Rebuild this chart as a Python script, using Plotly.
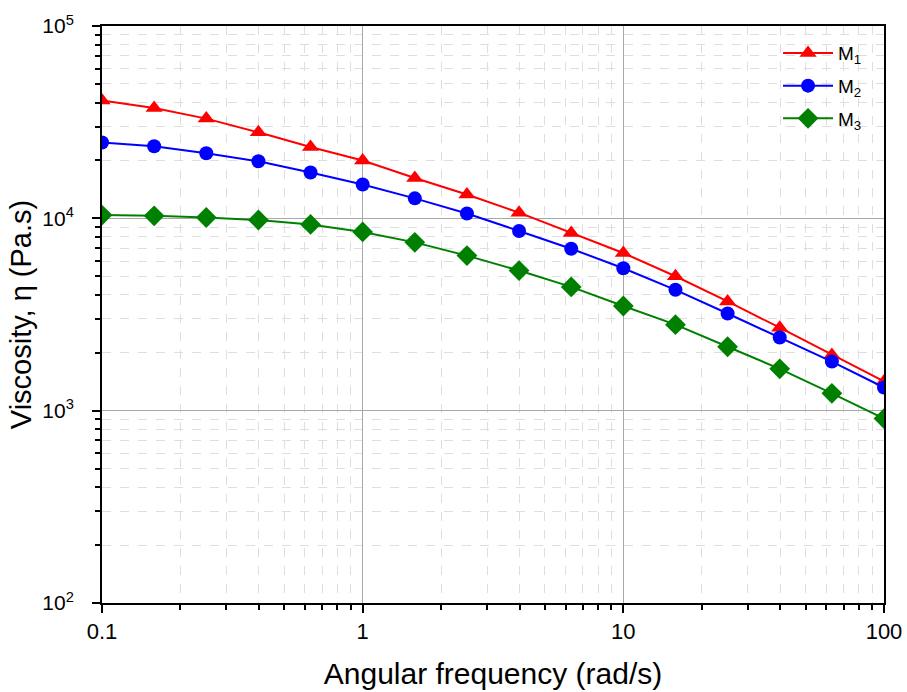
import plotly.graph_objects as go

freq = [0.1, 0.1585, 0.2512, 0.3981, 0.631, 1.0, 1.585, 2.512, 3.981, 6.31,
        10.0, 15.85, 25.12, 39.81, 63.1, 100.0]
m1 = [41000, 37500, 33000, 28000, 23500, 20000, 16200, 13300, 10700, 8400,
      6600, 5000, 3700, 2700, 1950, 1420]
m2 = [24800, 23700, 21800, 19800, 17300, 15000, 12700, 10600, 8600, 6950,
      5500, 4250, 3200, 2400, 1800, 1320]
m3 = [10400, 10300, 10100, 9800, 9300, 8500, 7500, 6400, 5350, 4400,
      3500, 2800, 2150, 1650, 1230, 910]

names = ["M<sub>1</sub>", "M<sub>2</sub>", "M<sub>3</sub>"]
colors = ["#ff0000", "#0000ff", "#008000"]
symbols = ["triangle-up", "circle", "diamond"]
sizes = [15, 14, 16]

x_tickvals = [0.1, 1, 10, 100]
x_ticktext = ["0.1", "1", "10", "100"]
y_tickvals = [100, 1000, 10000, 100000]
y_ticktext = ["10<sup>2</sup>", "10<sup>3</sup>", "10<sup>4</sup>", "10<sup>5</sup>"]
minor_mult = [2, 3, 4, 5, 6, 7, 8, 9]
x_minor = [d * m for d in x_tickvals[:-1] for m in minor_mult]
y_minor = [d * m for d in y_tickvals[:-1] for m in minor_mult]

fig = go.Figure()
for i, (ys, n, c, s, sz) in enumerate(zip([m1, m2, m3], names, colors, symbols, sizes)):
    fig.add_trace(go.Scatter(
        x=freq, y=ys, name=n, mode="lines+markers", legendgroup=f"g{i}",
        line=dict(color=c, width=2),
        marker=dict(symbol=s, size=sz, color=c),
    ))

font = "Liberation Sans, Arial, sans-serif"


def axis(minor_vals, tsize):
    return dict(
        type="log", automargin=False,
        showline=True, linecolor="black", linewidth=2, mirror=True,
        ticks="outside", ticklen=8, tickwidth=2, tickcolor="black",
        showgrid=True, gridcolor="#a8a8a8", gridwidth=1,
        tickfont=dict(family=font, size=tsize, color="black"),
        zeroline=False,
        minor=dict(tickvals=minor_vals, ticks="outside", ticklen=5, tickwidth=1.5,
                   tickcolor="black", showgrid=True, gridcolor="#dedede",
                   griddash="dash", gridwidth=1),
    )


fig.update_layout(
    width=907, height=692,
    margin=dict(l=102, r=23, t=26, b=89),
    paper_bgcolor="white", plot_bgcolor="white",
    font=dict(family=font, color="black"),
    xaxis=dict(axis(x_minor, 22), range=[-1, 2], tickvals=x_tickvals, ticktext=x_ticktext,
               title=dict(text="Angular frequency (rad/s)", font=dict(size=30), standoff=20)),
    yaxis=dict(axis(y_minor, 21), range=[2, 5], tickvals=y_tickvals, ticktext=y_ticktext,
               ticklabelstandoff=14,
               title=dict(text="Viscosity, η (Pa.s)", font=dict(size=29), standoff=2)),
    legend=dict(x=0.8645, y=0.986, xanchor="left", yanchor="top",
                bgcolor="rgba(0,0,0,0)", font=dict(size=19, family=font),
                tracegroupgap=5, itemwidth=50),
    showlegend=True,
)

fig.write_html("out.html")
